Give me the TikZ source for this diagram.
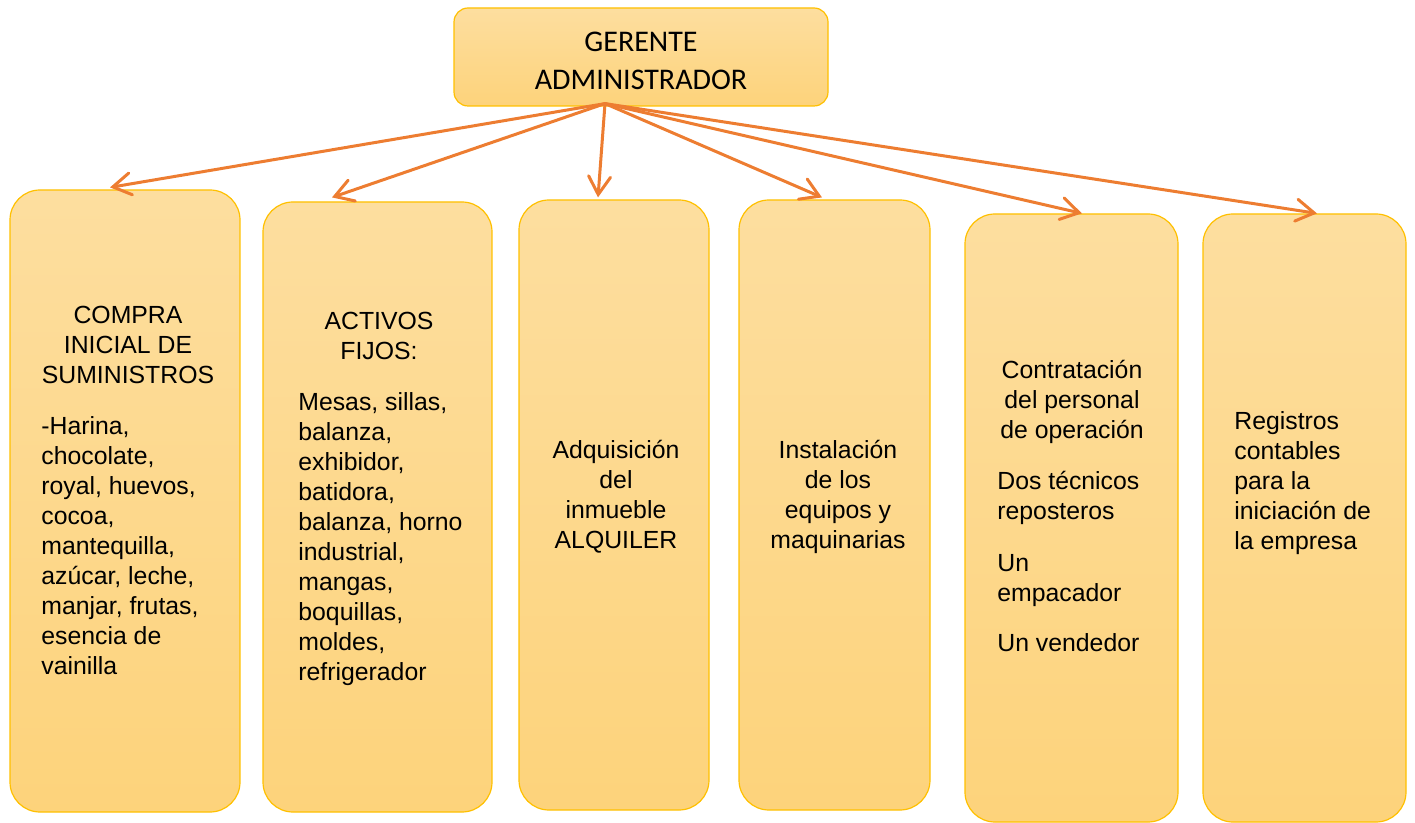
\documentclass[tikz,border=0pt]{standalone}
\usepackage{fontspec}
\setmainfont{Liberation Sans}
\newfontfamily\calibrifont{Carlito}
\usepackage{xcolor}
\usetikzlibrary{arrows.meta, positioning, calc}
\definecolor{boxline}{HTML}{FFC000}
\definecolor{boxtop}{HTML}{FDDE9F}
\definecolor{boxbot}{HTML}{FDD37B}
\definecolor{arrowc}{HTML}{ED7D31}

\begin{document}
\begin{tikzpicture}[x=0.5pt, y=-0.5pt,
  box/.style={draw=boxline, line width=0.6pt, rounded corners=15pt, top color=boxtop, bottom color=boxbot, inner sep=0pt},
  headbox/.style={box, rounded corners=7pt},
  txt/.style={font=\fontsize{12.4}{15}\selectfont, inner sep=0pt, anchor=base},
  link/.style={draw=arrowc, line width=1.5pt, line cap=round, -{Straight Barb[length=9pt, width=11pt, line cap=round]}}]
\useasboundingbox (0,0) rectangle (1415,823);

% Gerente (text nodes sit on the baseline of their last line)
\node[headbox, minimum width=187pt, minimum height=49pt] (ger) at (641,57) {};
\node[inner sep=0pt, anchor=base, align=center, font=\calibrifont\fontsize{15}{19}\selectfont] (gertxt) at (641,90) {GERENTE\\ADMINISTRADOR};

% Areas
\node[box, minimum width=115pt, minimum height=311pt] (b1) at (125,501) {};
\node[box, minimum width=114.5pt, minimum height=305pt] (b2) at (377.5,507) {};
\node[box, minimum width=95pt, minimum height=305pt] (b3) at (614,505) {};
\node[box, minimum width=95.5pt, minimum height=305pt] (b4) at (834.5,505) {};
\node[box, minimum width=106.5pt, minimum height=304pt] (b5) at (1071.5,518) {};
\node[box, minimum width=101.5pt, minimum height=304pt] (b6) at (1304.5,518) {};

% Suministros
\node[txt, align=center] (t1) at (128,384) {COMPRA\\INICIAL DE\\SUMINISTROS};
\node[txt, align=left, anchor=base west] (l1) at (41,675) {-Harina,\\chocolate,\\royal, huevos,\\cocoa,\\mantequilla,\\az\'ucar, leche,\\manjar, frutas,\\esencia de\\vainilla};

% Activos
\node[txt, align=center] (t2) at (379,360) {ACTIVOS\\FIJOS:};
\node[txt, align=left, anchor=base west] (l2) at (298,681) {Mesas, sillas,\\balanza,\\exhibidor,\\batidora,\\balanza, horno\\industrial,\\mangas,\\boquillas,\\moldes,\\refrigerador};

% Inmueble
\node[txt, align=center] (t3) at (616,549) {Adquisici\'on\\del\\inmueble\\ALQUILER};

% Equipos
\node[txt, align=center] (t4) at (838,549) {Instalaci\'on\\de los\\equipos y\\maquinarias};

% Personal
\node[txt, align=center] (t5) at (1072,439) {Contrataci\'on\\del personal\\de operaci\'on};
\node[txt, align=left, anchor=base west] (l5a) at (997,520) {Dos t\'ecnicos\\reposteros};
\node[txt, align=left, anchor=base west] (l5b) at (997,602) {Un\\empacador};
\node[txt, align=left, anchor=base west] (l5c) at (997,652) {Un vendedor};

% Registros
\node[txt, align=left, anchor=base west] (l6) at (1234,550) {Registros\\contables\\para la\\iniciaci\'on de\\la empresa};

% Arrows
\coordinate (hub) at ([xshift=-18pt, yshift=1.5pt]ger.south);
\draw[link] (hub) -- ([xshift=-7.5pt, yshift=1pt]b1.north);
\draw[link] (hub) -- ([xshift=-22.75pt, yshift=2pt]b2.north);
\draw[link] (hub) -- ([xshift=-8pt, yshift=1pt]b3.north);
\draw[link] (hub) -- ([xshift=-6.25pt, yshift=1pt]b4.north);
\draw[link] (hub) -- ([xshift=5.25pt]b5.north);
\draw[link] (hub) -- ([xshift=6.25pt]b6.north);
\end{tikzpicture}
\end{document}
